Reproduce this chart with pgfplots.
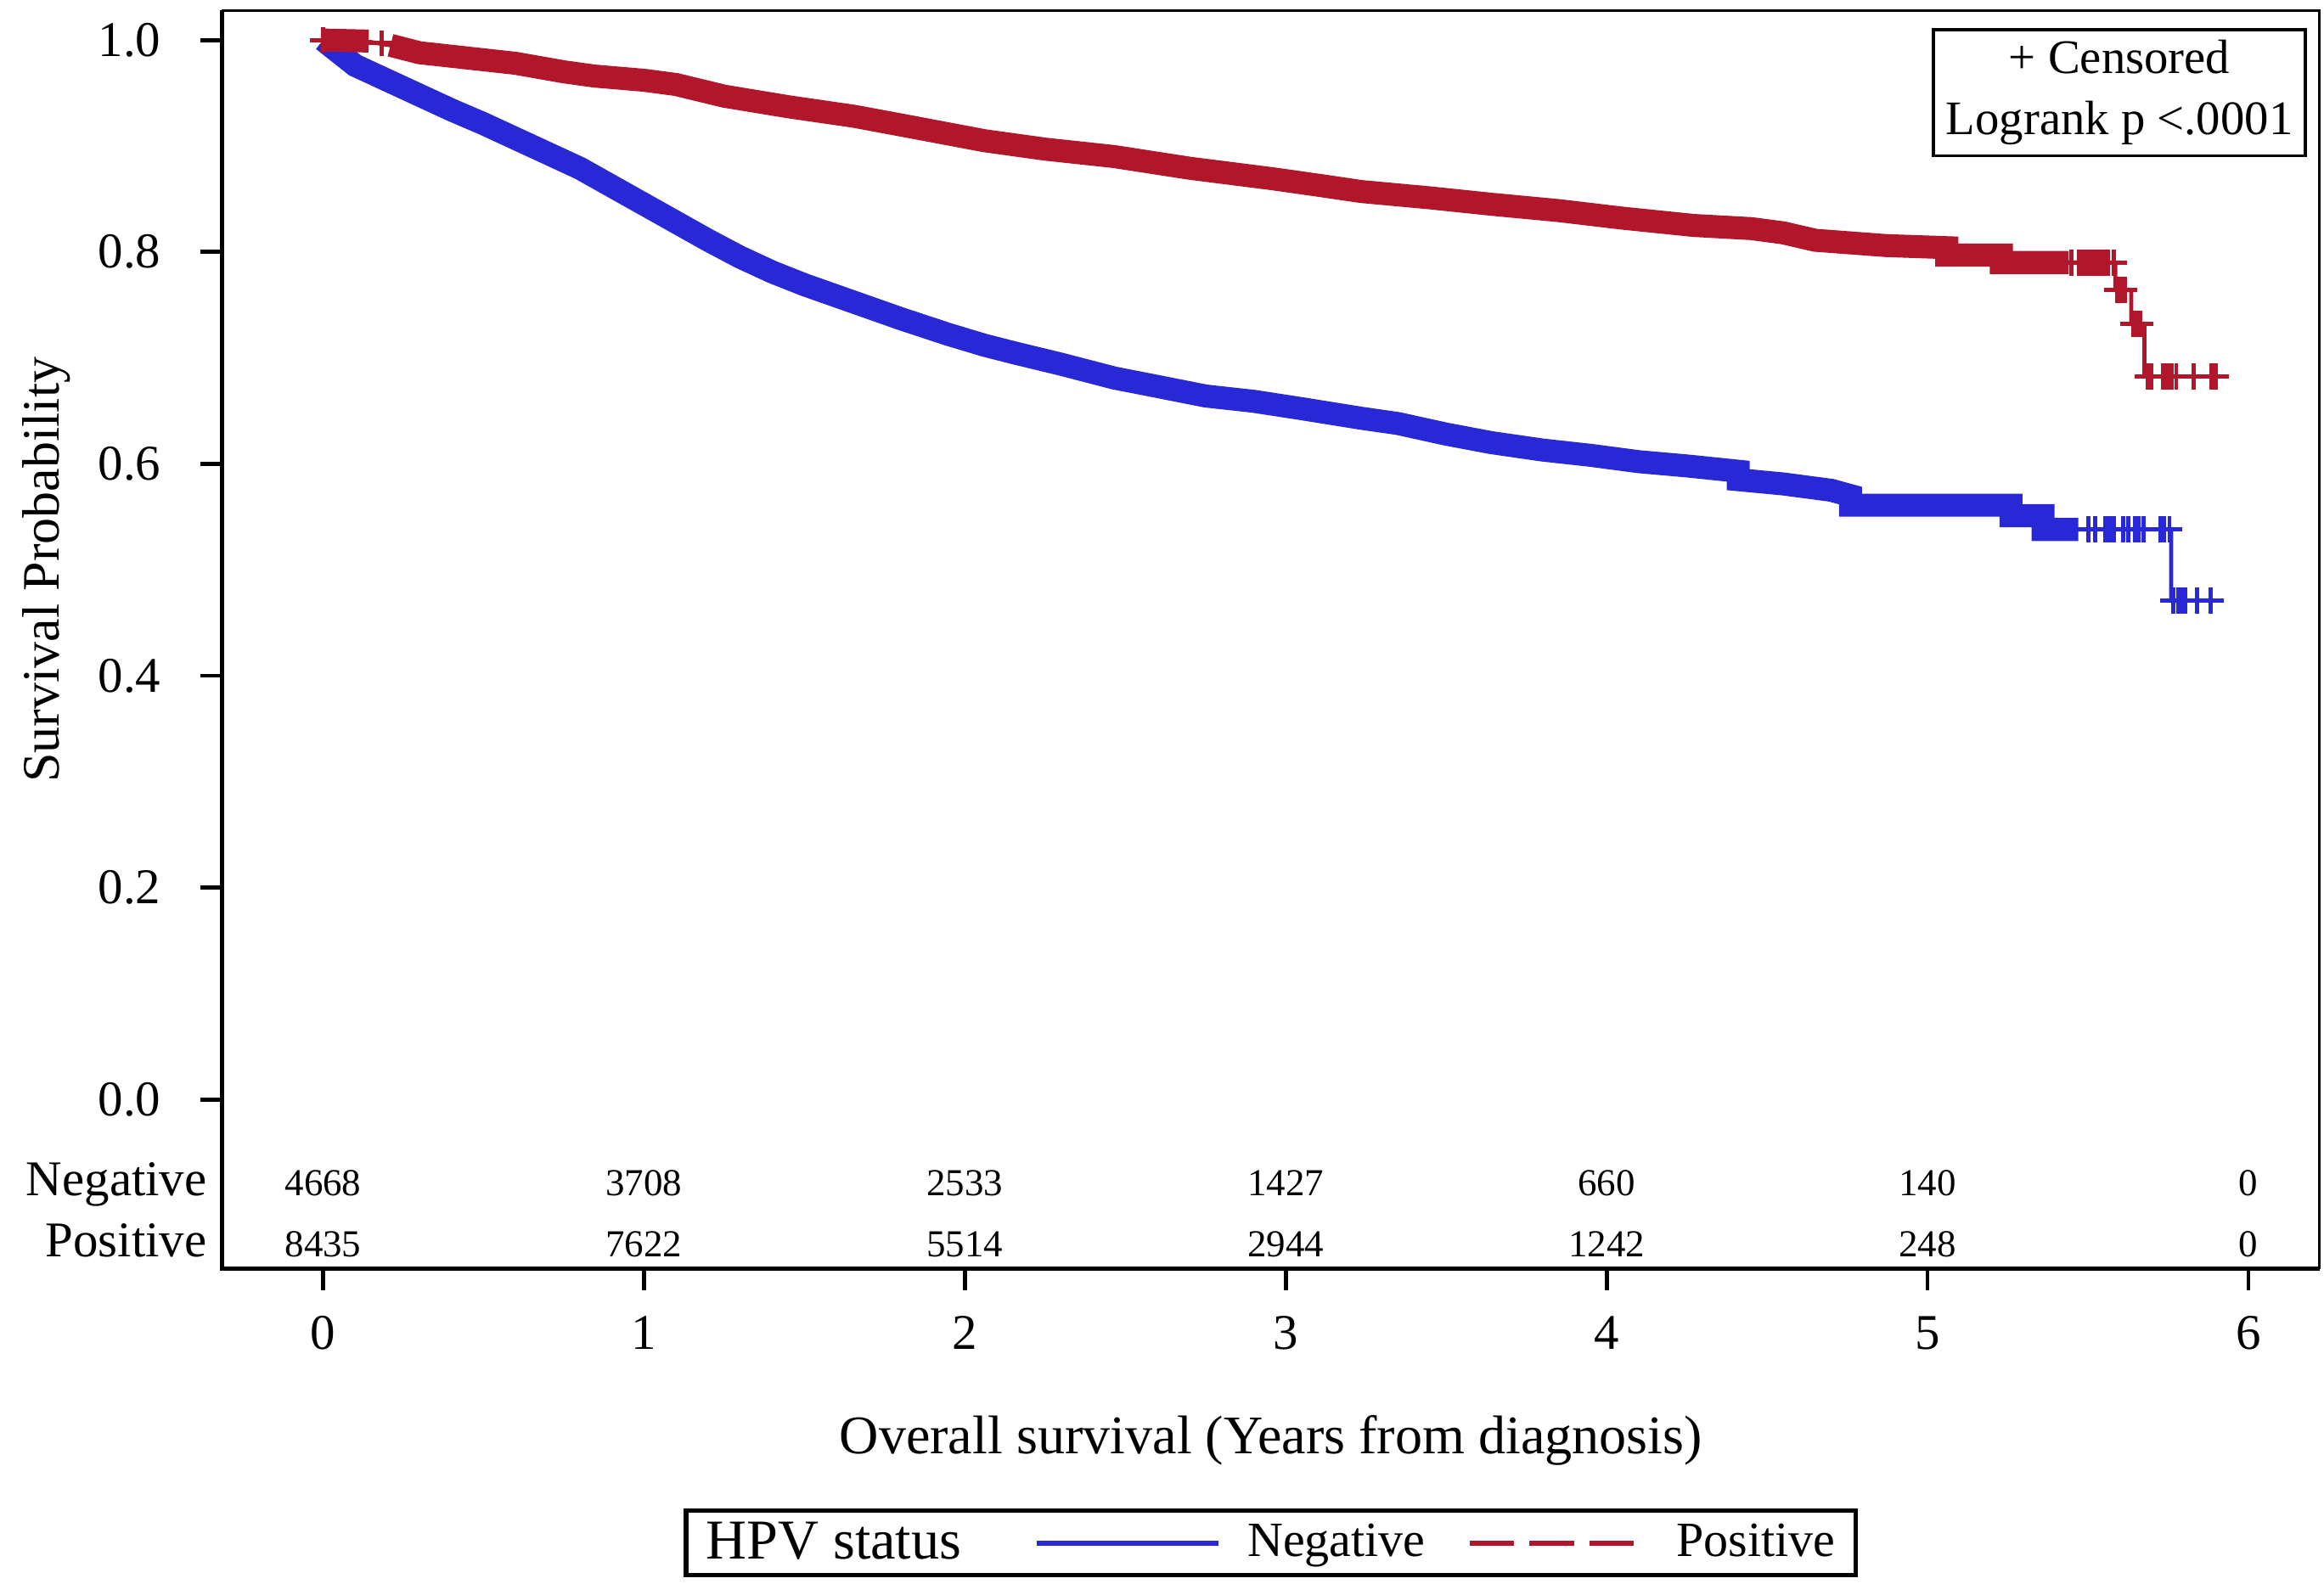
\documentclass[border=0pt]{standalone}
\usepackage{fontspec}
\setmainfont{Liberation Serif}
\usepackage{pgfplots}
\pgfplotsset{compat=1.18}
\definecolor{kmblue}{RGB}{40,40,215}
\definecolor{kmred}{RGB}{178,22,42}
\pgfplotsset{
  legblue/.style={legend image code/.code={\draw[kmblue,line width=1.4pt] (0pt,0pt) -- (49pt,0pt);}},
  legred/.style={legend image code/.code={\draw[kmred,line width=1.4pt,dash pattern=on 12pt off 4.2pt] (0pt,0pt) -- (44.4pt,0pt);}},
}
\begin{document}
\begin{tikzpicture}
\begin{axis}[
  scale only axis,
  width=566pt, height=339.6pt,
  xmin=-0.3141, xmax=6.2217,
  ymin=-0.1594, ymax=1.0280,
  clip=false,
  axis line style={line width=0.6pt, black},
  xtick={0,1,2,3,4,5,6},
  ytick={0,0.2,0.4,0.6,0.8,1.0},
  xtick pos=bottom, ytick pos=left,
  tick align=outside,
  major tick length=6pt,
  every tick/.append style={black, line width=1.1pt},
  /pgf/number format/assume math mode=true,
  tick label style={font=\fontsize{13.5}{16}\selectfont, inner sep=0pt},
  x tick label style={anchor=base, yshift=-15.8pt},
  y tick label style={anchor=east, xshift=-10.4pt,
     /pgf/number format/fixed, /pgf/number format/fixed zerofill, /pgf/number format/precision=1},
  xlabel={Overall survival (Years from diagnosis)},
  xlabel style={at={(axis description cs:0.5,-0.1472)}, anchor=base, inner sep=0pt, font=\fontsize{14.7}{17}\selectfont},
  ylabel={Survival Probability},
  ylabel style={at={(axis description cs:-0.0777,0.5553)}, anchor=base, rotate=0, inner sep=0pt, font=\fontsize{14.2}{17}\selectfont},
  legend style={at={(axis description cs:0.5,-0.1908)}, anchor=north, draw=black, line width=1.2pt,
     inner xsep=5.5pt, inner ysep=3pt, column sep=0pt, nodes={inner sep=0pt}},
  legend columns=3,
  legend cell align=left,
]
\addlegendimage{empty legend}
\addlegendentry{\fontsize{15.2}{18}\selectfont HPV status\hspace*{19.6pt}}
\addlegendimage{legblue}
\addlegendentry{\hspace*{7.2pt}\fontsize{13.3}{16}\selectfont Negative\hspace*{11.2pt}}
\addlegendimage{legred}
\addlegendentry{\hspace*{10.8pt}\fontsize{13.3}{16}\selectfont Positive}

% ---------------- Negative (blue) ----------------
\addplot[forget plot, kmblue, line width=1.1pt] coordinates {
(0,1.0) (0.05,0.988) (0.1,0.976) (0.2,0.962) (0.3,0.948) (0.4,0.934) (0.5,0.921)
(0.6,0.907) (0.7,0.893) (0.8,0.879) (0.9,0.862) (1.0,0.845) (1.1,0.828) (1.2,0.811)
(1.3,0.795) (1.4,0.781) (1.5,0.769) (1.65,0.753) (1.8,0.737) (1.95,0.722) (2.06,0.712)
(2.15,0.705) (2.3,0.694) (2.465,0.681) (2.6,0.673) (2.75,0.664) (2.9,0.659) (3.05,0.652)
(3.235,0.643) (3.35,0.638) (3.5,0.628) (3.64,0.620) (3.8,0.613) (3.95,0.608) (4.1,0.602)
(4.25,0.598) (4.41,0.593) (4.41,0.585) (4.55,0.581) (4.70,0.575) (4.76,0.570) (4.76,0.561)
(5.26,0.561) (5.26,0.551) (5.36,0.551) (5.36,0.538) (5.759,0.538) (5.759,0.471) (5.883,0.471)
};
\addplot[forget plot, kmblue, line width=6.2pt, line cap=butt, line join=miter] coordinates {
(0,1.0) (0.05,0.988) (0.1,0.976) (0.2,0.962) (0.3,0.948) (0.4,0.934) (0.5,0.921)
(0.6,0.907) (0.7,0.893) (0.8,0.879) (0.9,0.862) (1.0,0.845) (1.1,0.828) (1.2,0.811)
(1.3,0.795) (1.4,0.781) (1.5,0.769) (1.65,0.753) (1.8,0.737) (1.95,0.722) (2.06,0.712)
(2.15,0.705) (2.3,0.694) (2.465,0.681) (2.6,0.673) (2.75,0.664) (2.9,0.659) (3.05,0.652)
(3.235,0.643) (3.35,0.638) (3.5,0.628) (3.64,0.620) (3.8,0.613) (3.95,0.608) (4.1,0.602)
(4.25,0.598) (4.41,0.593) (4.41,0.585) (4.55,0.581) (4.70,0.575) (4.76,0.570) (4.76,0.561)
(5.26,0.561) (5.26,0.551) (5.36,0.551) (5.36,0.538) (5.47,0.538)
};
\addplot[forget plot, kmblue, only marks, mark=+, mark size=3.5pt, mark options={line width=1.1pt}] coordinates {
(5.501,0.538) (5.523,0.538) (5.555,0.538) (5.562,0.538) (5.569,0.538) (5.576,0.538) (5.582,0.538)
(5.609,0.538) (5.625,0.538) (5.647,0.538) (5.657,0.538) (5.673,0.538) (5.727,0.538) (5.738,0.538) (5.754,0.538)
(5.765,0.471) (5.781,0.471) (5.788,0.471) (5.795,0.471) (5.802,0.471) (5.840,0.471) (5.883,0.471)
};

% ---------------- Positive (red) ----------------
\addplot[forget plot, kmred, line width=1.1pt] coordinates {
(0,1.0) (0.15,0.998) (0.21,0.995) (0.3,0.988) (0.45,0.983) (0.6,0.978) (0.75,0.970)
(0.845,0.966) (1.0,0.962) (1.1,0.958) (1.25,0.947) (1.45,0.937) (1.655,0.928) (1.85,0.917)
(2.06,0.905) (2.25,0.897) (2.465,0.890) (2.7,0.879) (2.96,0.869) (3.1,0.863) (3.235,0.857)
(3.45,0.851) (3.64,0.845) (3.85,0.839) (4.045,0.832) (4.27,0.825) (4.45,0.822) (4.55,0.818)
(4.65,0.811) (4.87,0.806) (5.06,0.804) (5.06,0.797) (5.23,0.797) (5.23,0.790) (5.585,0.790)
(5.585,0.764) (5.635,0.764) (5.635,0.732) (5.676,0.732) (5.676,0.6825) (5.898,0.6825)
};
\addplot[forget plot, kmred, line width=6.2pt, line cap=butt] coordinates {
(0,1.0) (0.142,0.999)
};
\addplot[forget plot, kmred, line width=6.2pt, line cap=butt, line join=miter] coordinates {
(0.21,0.995) (0.3,0.988) (0.45,0.983) (0.6,0.978) (0.75,0.970)
(0.845,0.966) (1.0,0.962) (1.1,0.958) (1.25,0.947) (1.45,0.937) (1.655,0.928) (1.85,0.917)
(2.06,0.905) (2.25,0.897) (2.465,0.890) (2.7,0.879) (2.96,0.869) (3.1,0.863) (3.235,0.857)
(3.45,0.851) (3.64,0.845) (3.85,0.839) (4.045,0.832) (4.27,0.825) (4.45,0.822) (4.55,0.818)
(4.65,0.811) (4.87,0.806) (5.06,0.804) (5.06,0.797) (5.23,0.797) (5.23,0.790) (5.44,0.790)
};
\addplot[forget plot, kmred, only marks, mark=+, mark size=3.5pt, mark options={line width=1.1pt}] coordinates {
(0,1.0) (0.182,0.997)
(5.449,0.790) (5.472,0.790) (5.481,0.790) (5.49,0.790) (5.50,0.790) (5.51,0.790) (5.52,0.790)
(5.53,0.790) (5.54,0.790) (5.553,0.790) (5.562,0.790) (5.580,0.790)
(5.590,0.764) (5.598,0.764) (5.606,0.764) (5.614,0.764)
(5.640,0.732) (5.648,0.732) (5.656,0.732) (5.664,0.732)
(5.685,0.6825) (5.698,0.6825) (5.735,0.6825) (5.742,0.6825) (5.748,0.6825) (5.755,0.6825)
(5.762,0.6825) (5.775,0.6825) (5.830,0.6825) (5.884,0.6825) (5.898,0.6825)
};

% ---------------- numbers at risk ----------------
\addplot[forget plot, draw=none, mark=none, nodes near coords, point meta=explicit symbolic,
  every node near coord/.style={anchor=base, inner sep=0pt, text=black, font=\fontsize{10.3}{12}\selectfont}]
  table[meta=lab] {
x y lab
0 -0.0909 4668
1 -0.0909 3708
2 -0.0909 2533
3 -0.0909 1427
4 -0.0909 660
5 -0.0909 140
6 -0.0909 0
0 -0.1483 8435
1 -0.1483 7622
2 -0.1483 5514
3 -0.1483 2944
4 -0.1483 1242
5 -0.1483 248
6 -0.1483 0
};
\addplot[forget plot, draw=none, mark=none, nodes near coords, point meta=explicit symbolic,
  every node near coord/.style={anchor=base east, inner sep=0pt, text=black, font=\fontsize{13.5}{16}\selectfont}]
  table[meta=lab] {
x y lab
-0.3603 -0.0909 Negative
-0.3603 -0.1483 Positive
};

\draw[line width=1.2pt, black] (rel axis cs:0,1) -- (rel axis cs:0,0) -- (rel axis cs:1,0);
\node[draw=black, line width=0.8pt, anchor=north east, minimum width=100.4pt, minimum height=34pt,
  inner sep=0pt, align=center, font=\fontsize{13}{16.4}\selectfont]
  at ([xshift=-3.4pt,yshift=-4.8pt]rel axis cs:1,1) {+ Censored\\Logrank p <.0001};
\coordinate (BL) at (rel axis cs:0,0);
\coordinate (TR) at (rel axis cs:1,1);
\end{axis}
\pgfresetboundingbox
\path[use as bounding box] ([xshift=-60pt,yshift=-85.2pt]BL) rectangle ([xshift=1.2pt,yshift=2.8pt]TR);
\end{tikzpicture}
\end{document}
